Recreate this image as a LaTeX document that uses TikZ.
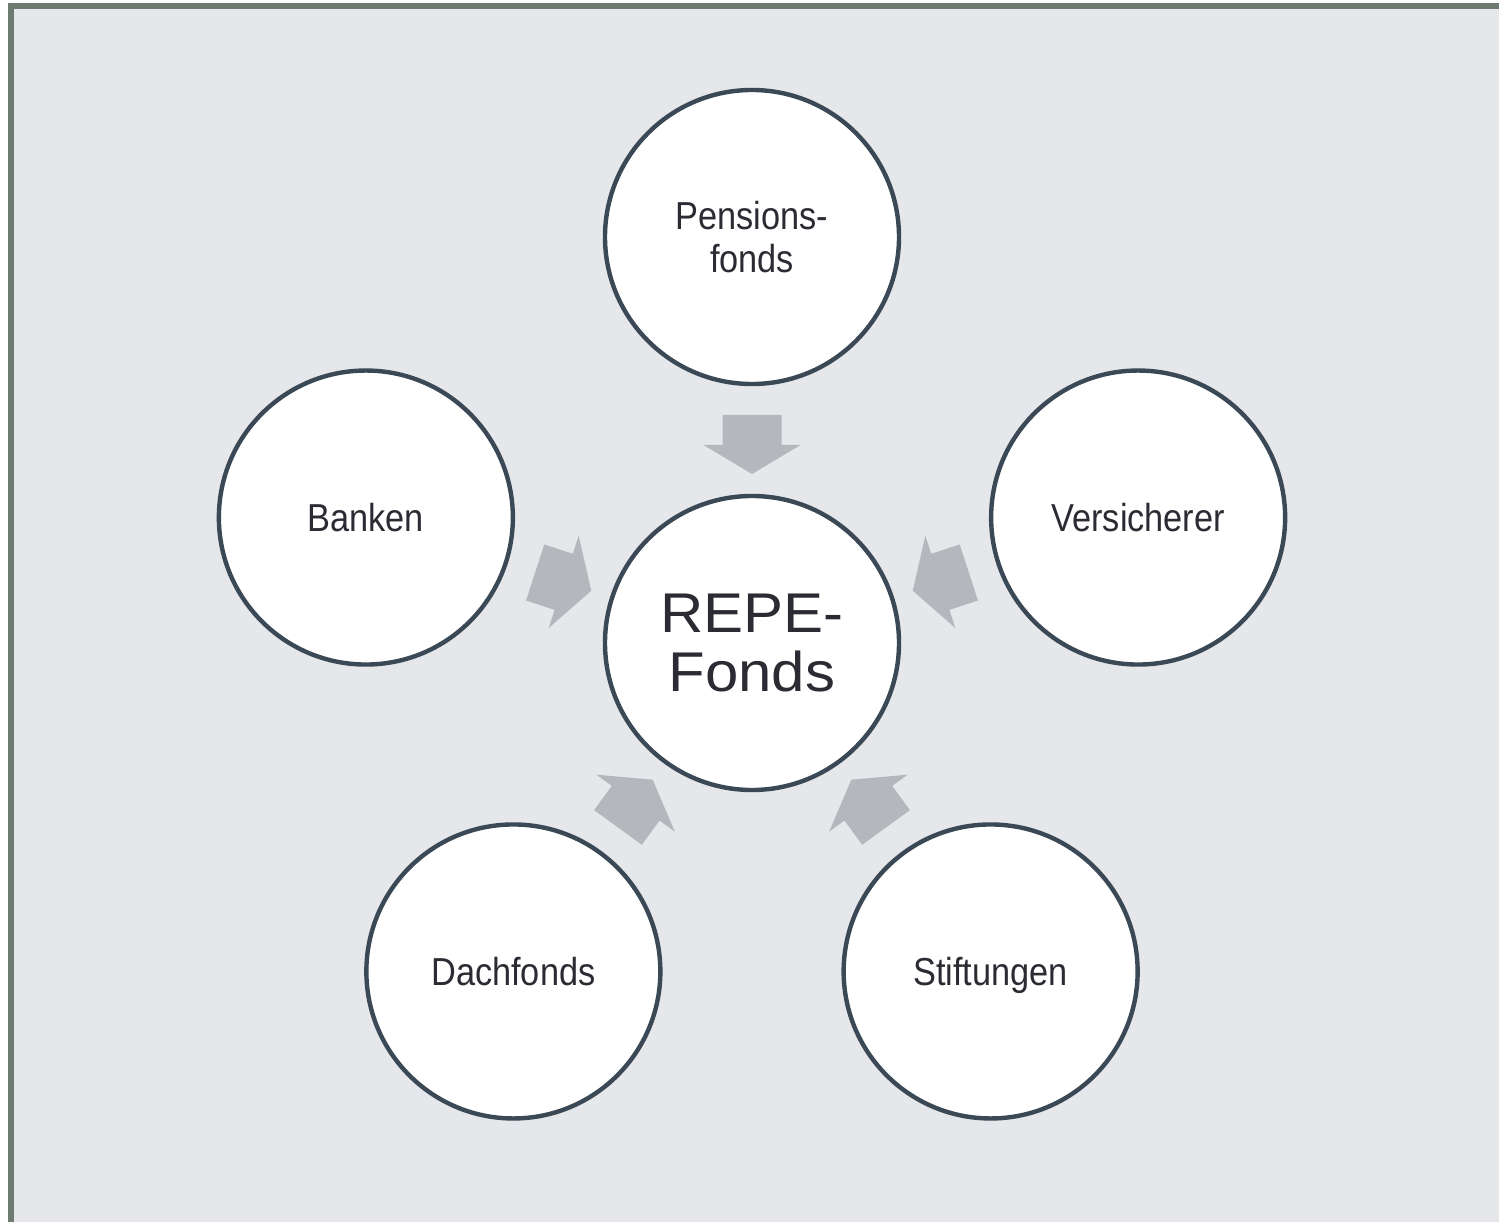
\documentclass[tikz,border=0pt]{standalone}
\usepackage{fontspec}
\usetikzlibrary{calc}
\setmainfont{Liberation Sans}
\newfontfamily\outerfont[FakeStretch=0.88]{Liberation Sans}
\newfontfamily\centerfont[FakeStretch=1.07]{Liberation Sans}
\definecolor{bgcol}{HTML}{E5E7EB}
\definecolor{framecol}{HTML}{6D7B71}
\definecolor{ringcol}{HTML}{3B4856}
\definecolor{arrowcol}{HTML}{B4B7BB}
\definecolor{txtcol}{HTML}{2B2B33}
\tikzset{
  ring/.style={circle, draw=ringcol, line width=2.2pt, fill=white, minimum size=147pt, inner sep=0pt, text=txtcol, align=center},
  outerring/.style={ring, text depth=0pt, font=\outerfont\fontsize{19.5pt}{21.5pt}\selectfont},
  centerring/.style={ring, font=\centerfont\fontsize{28pt}{29.5pt}\selectfont},
  blockarrow/.style={fill=arrowcol},
}
\begin{document}
\begin{tikzpicture}[x=0.5pt,y=0.5pt]
  \useasboundingbox (0,0) rectangle (1499,1222);
  \fill[white] (0,0) rectangle (1499,1222);
  \fill[bgcol] (8,0) rectangle (1499,1219);
  \draw[framecol, line width=3pt] (11,0) -- (11,1216) -- (1499,1216);
  \coordinate (c) at (752,579);
  \node[centerring] (repe) at (c) {REPE-\\Fonds};
  \node[outerring] (pens) at ($(c)+(90:406)$) {Pensions-\\fonds};
  \node[outerring] (bank) at ($(c)+(162:406)$) {Banken};
  \node[outerring] (dach) at ($(c)+(234:406)$) {Dachfonds};
  \node[outerring] (stif) at ($(c)+(306:406)$) {Stiftungen};
  \node[outerring] (vers) at ($(c)+(18:406)$) {Versicherer};
  \foreach \a in {90,162,234,306,18} {
    \fill[blockarrow, shift={(c)}, rotate=\a]
      (228,29.5) -- (198,29.5) -- (198,48.5) -- (169,0) -- (198,-48.5) -- (198,-29.5) -- (228,-29.5) -- cycle;
  }
\end{tikzpicture}
\end{document}
